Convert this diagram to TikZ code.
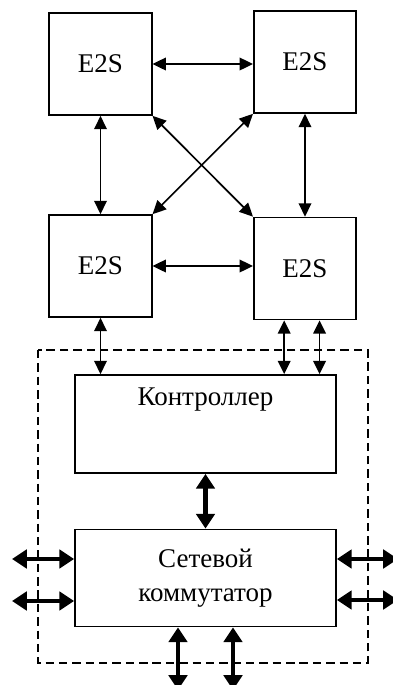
\documentclass[tikz,border=0pt]{standalone}
\usepackage{fontspec}
\setmainfont{Liberation Serif}
\usetikzlibrary{arrows.meta,calc}

\begin{document}
\begin{tikzpicture}[x=0.025cm,y=-0.025cm,
        box/.style={draw,line width=1.2pt,inner sep=0pt},
        e2s/.style={box,minimum width=2.56cm,minimum height=2.55cm},
        thin/.style={line width=1.2pt,{Triangle[length=9.5pt,width=9pt]}-{Triangle[length=9.5pt,width=9pt]}},
        thick/.style={line width=3.4pt,{Triangle[length=10.5pt,width=13pt]}-{Triangle[length=10.5pt,width=13pt]}},
        font=\fontsize{19.2}{24}\selectfont]
    \useasboundingbox (0,0) rectangle (393,685);

    % four E2S units
    \node[e2s] (tl) at (100.5,64) {E2S};
    \node[e2s] (tr) at (305,62) {E2S};
    \node[e2s] (bl) at (100.5,266) {E2S};
    \node[e2s] (br) at (305,268.5) {E2S};

    \draw[thin] (tl.east) -- (tl.east -| tr.west);
    \draw[thin] (bl.east) -- (bl.east -| br.west);
    \draw[thin] (tl.south) -- (tl.south |- bl.north);
    \draw[thin] (tr.south) -- (tr.south |- br.north);
    \draw[thin] (tl.south east) -- (br.north west);
    \draw[thin] (tr.south west) -- (bl.north east);

    % node boundary
    \draw[dashed,line width=0.9pt,dash pattern=on 6pt off 3.5pt] (38,350) rectangle (368,663);

    \node[box,minimum width=6.525cm,minimum height=2.45cm] (ctrl) at (205.5,424) {};
    \node (ctrltxt) at (205.5,400) {Контроллер};
    \node[box,minimum width=6.525cm,minimum height=2.425cm,align=center] (sw) at (205.5,578) {Сетевой\\коммутатор};

    \draw[thin] (bl.south) -- (bl.south |- ctrl.north);
    \draw[thin] ($(br.south west)!0.3!(br.south east)$) coordinate (p1) -- (p1 |- ctrl.north);
    \draw[thin] ($(br.south west)!0.64!(br.south east)$) coordinate (p2) -- (p2 |- ctrl.north);

    \draw[thick] (ctrl.south) -- (sw.north);

    % external ports
    \coordinate (l1) at (12,559);
    \coordinate (l2) at (12,601);
    \coordinate (r1) at (398,559);
    \coordinate (r2) at (398,600);
    \coordinate (d1) at (178,690);
    \coordinate (d2) at (233,690);
    \draw[thick] (l1) -- (l1 -| sw.west);
    \draw[thick] (l2) -- (l2 -| sw.west);
    \draw[thick] (r1 -| sw.east) -- (r1);
    \draw[thick] (r2 -| sw.east) -- (r2);
    \draw[thick] (d1 |- sw.south) -- (d1);
    \draw[thick] (d2 |- sw.south) -- (d2);
\end{tikzpicture}
\end{document}
